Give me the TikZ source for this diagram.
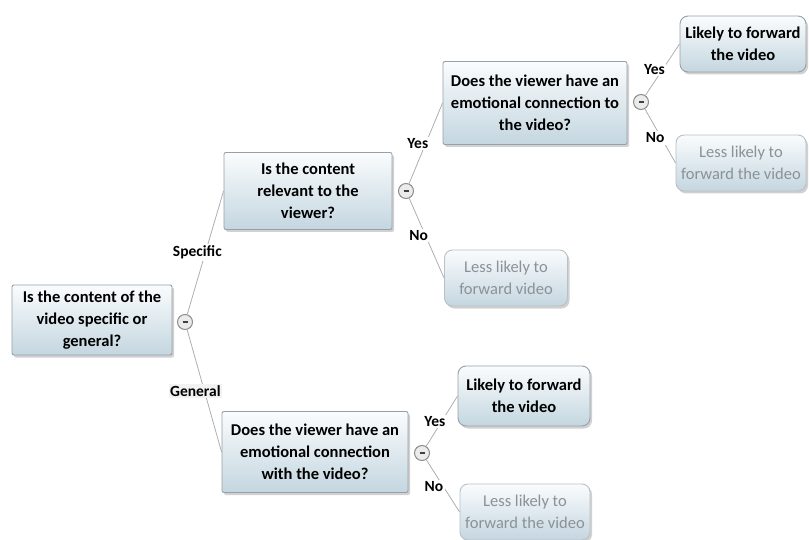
\documentclass[tikz,border=0pt]{standalone}
\usepackage{fontspec}
\setmainfont{Carlito}
\usetikzlibrary{shadows}
\definecolor{boxtop}{RGB}{250,252,253}
\definecolor{boxbot}{RGB}{196,214,224}
\definecolor{boxline}{RGB}{150,160,168}
\definecolor{leafline}{RGB}{185,192,198}
\definecolor{linkgray}{RGB}{170,175,180}
\definecolor{softtext}{RGB}{140,145,150}
\tikzset{
  base/.style={draw=boxline, line width=0.9pt, top color=boxtop, bottom color=boxbot,
    align=center,
    drop shadow={shadow xshift=2pt, shadow yshift=-2.5pt, opacity=0.3, fill=black!60}},
  question/.style={base, rounded corners=2pt, font=\fontsize{16.5}{22}\selectfont\bfseries,
    minimum height=70pt, inner xsep=3pt},
  leaf/.style={base, rounded corners=8pt, font=\fontsize{16.5}{22}\selectfont\bfseries,
    minimum height=56pt, inner xsep=3pt},
  softleaf/.style={base, draw=leafline, rounded corners=8pt, text=softtext,
    font=\fontsize{16.5}{22}\selectfont, minimum height=56pt, inner xsep=3pt},
  toggle/.style={circle, draw=black!45, line width=1pt, fill=black!8, minimum size=15pt,
    inner sep=0pt, path picture={\draw[line width=1.6pt, black!75]
      ([xshift=-2.5pt]path picture bounding box.center) -- ([xshift=2.5pt]path picture bounding box.center);}},
  link/.style={draw=linkgray, line width=0.8pt},
  lab/.style={fill=white, inner sep=1.5pt, font=\fontsize{15.5}{17}\selectfont\bfseries}
}
\begin{document}
\begin{tikzpicture}[x=1pt, y=-1pt]
\useasboundingbox (0,0) rectangle (809,540);

% question boxes
\node[question, minimum width=160pt] (q1) at (92,320) {Is the content of the\\video specific or\\general?};
\node[question, minimum width=168pt, minimum height=77pt] (q2) at (308,191) {Is the content\\relevant to the\\viewer?};
\node[question, minimum width=184pt, minimum height=83pt] (q3) at (535,103) {Does the viewer have an\\emotional connection to\\the video?};
\node[question, minimum width=186pt, minimum height=81pt] (q4) at (315,452) {Does the viewer have an\\emotional connection\\with the video?};

% outcome boxes
\node[leaf, minimum width=126pt] (r1) at (743,44) {Likely to forward\\the video};
\node[softleaf, minimum width=130pt] (r2) at (741,163) {Less likely to\\forward the video};
\node[softleaf, minimum width=123pt] (r3) at (506,278) {Less likely to\\forward video};
\node[leaf, minimum width=132pt, minimum height=60pt] (r4) at (524,396) {Likely to forward\\the video};
\node[softleaf, minimum width=130pt] (r5) at (525,512) {Less likely to\\forward the video};

% collapse toggles
\node[toggle] (t1) at (185,322) {};
\node[toggle] (t2) at (406,191) {};
\node[toggle] (t3) at (641,102) {};
\node[toggle] (t4) at (422,453) {};

% branches with their labels
\draw[link] (t1) -- node[lab, xshift=-8pt] {Specific} (q2.west);
\draw[link] (t1) -- node[lab, xshift=-9pt, fill=black!5] {General} (q4.west);
\draw[link] (t2) -- node[lab, xshift=-8pt] {Yes} (q3.west);
\draw[link] (t2) -- node[lab, xshift=-8pt, yshift=3pt] {No} (r3.west);
\draw[link] (t3) -- node[lab, xshift=-8pt] {Yes} (r1.west);
\draw[link] (t3) -- node[lab, xshift=-5pt, yshift=-2pt] {No} (r2.west);
\draw[link] (t4) -- node[lab, xshift=-7pt] {Yes} (r4.west);
\draw[link] (t4) -- node[lab, xshift=-9pt, yshift=-1pt] {No} (r5.west);
\end{tikzpicture}
\end{document}
